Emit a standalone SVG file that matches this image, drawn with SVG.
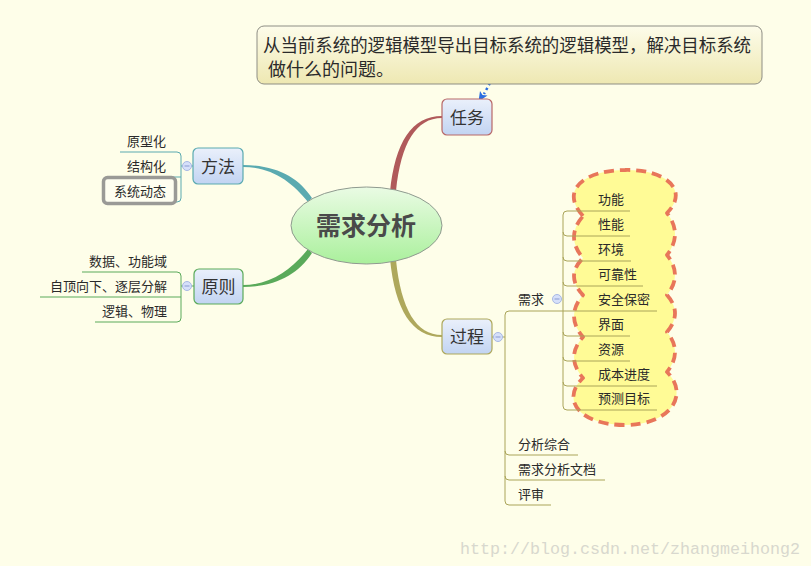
<svg xmlns="http://www.w3.org/2000/svg" width="811" height="569" viewBox="0 0 811 569">
<style>
  .t { font-family: "Noto Sans CJK SC", "Noto Sans", sans-serif; fill: #2a2a2a; }
  .s13 { font-size: 13px; }
  .box { font-size: 17px; fill: #333; }
  .br { fill: none; stroke-width: 1; }
  .teal { stroke: #5aaab0; }
  .green { stroke: #5aaa5a; }
  .olive { stroke: #aaa458; }
  .cb { fill: #d6e0fa; stroke: #a8b8e4; stroke-width: 1; }
  .cbm { stroke: #8a9ad0; stroke-width: 1; }
</style>
<defs>
  <linearGradient id="gBox" x1="0" y1="0" x2="0" y2="1">
    <stop offset="0" stop-color="#eaf0fb"/>
    <stop offset="1" stop-color="#c2d4f2"/>
  </linearGradient>
  <linearGradient id="gEll" x1="0" y1="0" x2="0" y2="1">
    <stop offset="0" stop-color="#eafbe4"/>
    <stop offset="1" stop-color="#aaf09c"/>
  </linearGradient>
  <linearGradient id="gNote" x1="0" y1="0" x2="0" y2="1">
    <stop offset="0" stop-color="#fdfcea"/>
    <stop offset="1" stop-color="#eee8b2"/>
  </linearGradient>
</defs>

<rect x="0" y="0" width="811" height="569" fill="#ffffff"/>
<rect x="0" y="0" width="811" height="566" fill="#fefee9"/>

<g id="connectors">
  <path d="M390,192 C395,142 412,116 442,116 L442,118 C416,118 401,143 396,191 Z" fill="#b05a5a"/>
  <path d="M390,259 C395,310 412,337 442,337 L442,335 C416,335 401,309 396,260 Z" fill="#aea85c"/>
  <path d="M312,198 C299,178 277,165 243,165 L243,167 C272,167 292,182 308,202 Z" fill="#5aaab0"/>
  <path d="M308,249 C293,268 272,285 243,285 L243,287 C277,287 299,273 312,253 Z" fill="#5aaa5a"/>
  <line x1="490" y1="83" x2="484" y2="94" stroke="#2a6ee0" stroke-width="2.5" stroke-dasharray="2.5,3"/>
  <path d="M478.5,101.5 L480,91 L482.5,95 L487.5,95.5 Z" fill="#2a6ee0"/>

  <!-- 方法 bracket -->
  <path class="br teal" d="M120,152 H177 Q181,152 181,156 V198 Q181,202 177,202 H120"/>
  <path class="br teal" d="M120,177 H181 M181,166 H193"/>
  <!-- 原则 bracket -->
  <path class="br green" d="M82,272 H177 Q181,272 181,276 V318 Q181,322 177,322 H95"/>
  <path class="br green" d="M40,297 H181 M181,286 H194"/>
  <!-- 过程 bracket -->
  <path class="br olive" d="M563,311 H509 Q505,311 505,315 V501 Q505,505 509,505 H551"/>
  <path class="br olive" d="M505,451 Q505,455 509,455 H578 M505,476 Q505,480 509,480 H605 M492,337 H505"/>
</g>

<g id="node-center">
  <ellipse cx="366.5" cy="225.5" rx="75.5" ry="38.5" fill="url(#gEll)" stroke="#8f9a8f" stroke-width="1"/>
  <text class="t" x="366" y="235" text-anchor="middle" font-size="25" font-weight="bold" style="fill:#4a4a4a">需求分析</text>
</g>

<g id="node-note">
  <rect x="257" y="26" width="505" height="58" rx="7" fill="url(#gNote)" stroke="#8e8e84" stroke-width="1"/>
  <text class="t" x="263" y="52" font-size="18" textLength="488" lengthAdjust="spacingAndGlyphs">从当前系统的逻辑模型导出目标系统的逻辑模型，解决目标系统</text>
  <text class="t" x="268" y="76" font-size="18">做什么的问题。</text>
</g>

<g id="node-renwu">
  <rect x="442" y="99" width="50" height="36" rx="5" fill="url(#gBox)" stroke="#b86868" stroke-width="1.2"/>
  <text class="t box" x="467" y="124" text-anchor="middle">任务</text>
</g>

<g id="node-fangfa">
  <rect x="193" y="148" width="50" height="36" rx="5" fill="url(#gBox)" stroke="#5aaab0" stroke-width="1.2"/>
  <text class="t box" x="218" y="173" text-anchor="middle">方法</text>
  <circle class="cb" cx="187" cy="166" r="4.5"/>
  <line class="cbm" x1="184.5" y1="166" x2="189.5" y2="166"/>
</g>
<g id="node-yuanxinghua"><text class="t s13" x="166" y="146" text-anchor="end">原型化</text></g>
<g id="node-jiegouhua"><text class="t s13" x="166" y="171" text-anchor="end">结构化</text></g>
<g id="node-xitongdongtai">
  <rect x="103.5" y="177.5" width="72" height="26" rx="4" fill="#fefef0" stroke="#9a9a96" stroke-width="3.5"/>
  <text class="t s13" x="166" y="196" text-anchor="end">系统动态</text>
</g>

<g id="node-yuanze">
  <rect x="194" y="269" width="49" height="35" rx="5" fill="url(#gBox)" stroke="#5aaa5a" stroke-width="1.2"/>
  <text class="t box" x="218.5" y="293" text-anchor="middle">原则</text>
  <circle class="cb" cx="187" cy="286" r="4.5"/>
  <line class="cbm" x1="184.5" y1="286" x2="189.5" y2="286"/>
</g>
<g id="node-shuju"><text class="t s13" x="167" y="266" text-anchor="end">数据、功能域</text></g>
<g id="node-zidingxiangxia"><text class="t s13" x="167" y="291" text-anchor="end">自顶向下、逐层分解</text></g>
<g id="node-luoji"><text class="t s13" x="167" y="316" text-anchor="end">逻辑、物理</text></g>

<g id="node-guocheng">
  <rect x="442" y="319" width="50" height="35" rx="5" fill="url(#gBox)" stroke="#aea85c" stroke-width="1.2"/>
  <text class="t box" x="467" y="343" text-anchor="middle">过程</text>
  <circle class="cb" cx="498" cy="337" r="4.5"/>
  <line class="cbm" x1="495.5" y1="337" x2="500.5" y2="337"/>
</g>

<g id="node-xuqiu">
  <text class="t s13" x="518" y="304">需求</text>
  <circle class="cb" cx="557" cy="299" r="4.5"/>
  <line class="cbm" x1="554.5" y1="299" x2="559.5" y2="299"/>
</g>

<g id="cloud">
  <path d="M583,216 C559,190 585,170 625,170 C665,169 690,190 667,213 Q683,234 667,255 Q683,275 667,295 Q683,313 667,332 Q683,352 667,372 C690,395 670,425 625,425 C580,425 560,400 583,378 Q565,357 583,337 Q565,316 583,295 Q565,276 583,258 Q565,237 583,216 Z" fill="#fffb96" stroke="#e8765a" stroke-width="3.8" stroke-dasharray="10,6" stroke-linejoin="round"/>
</g>

<g id="cloud-lines">
  <path class="br olive" d="M630,211 H567 Q563,211 563,215 V406 Q563,410 567,410 H657"/>
  <path class="br olive" d="M563,232 Q563,236 567,236 H630 M563,257 Q563,261 567,261 H631 M563,282 Q563,286 567,286 H643 M563,311 H657 M563,332 Q563,336 567,336 H630 M563,357 Q563,361 567,361 H630 M563,382 Q563,386 567,386 H657"/>
</g>

<g id="node-gongneng"><text class="t s13" x="598" y="204">功能</text></g>
<g id="node-xingneng"><text class="t s13" x="598" y="229">性能</text></g>
<g id="node-huanjing"><text class="t s13" x="598" y="254">环境</text></g>
<g id="node-kekaoxing"><text class="t s13" x="598" y="279">可靠性</text></g>
<g id="node-anquan"><text class="t s13" x="598" y="304">安全保密</text></g>
<g id="node-jiemian"><text class="t s13" x="598" y="329">界面</text></g>
<g id="node-ziyuan"><text class="t s13" x="598" y="354">资源</text></g>
<g id="node-chengben"><text class="t s13" x="598" y="379">成本进度</text></g>
<g id="node-yuce"><text class="t s13" x="598" y="403">预测目标</text></g>

<g id="node-fenxizonghe"><text class="t s13" x="518" y="449">分析综合</text></g>
<g id="node-wendang"><text class="t s13" x="518" y="474">需求分析文档</text></g>
<g id="node-pingshen"><text class="t s13" x="518" y="499">评审</text></g>

<text x="460" y="554" font-family="Liberation Mono, monospace" font-size="16.7" fill="#d8d8ce" textLength="340">http://blog.csdn.net/zhangmeihong2</text>
</svg>
